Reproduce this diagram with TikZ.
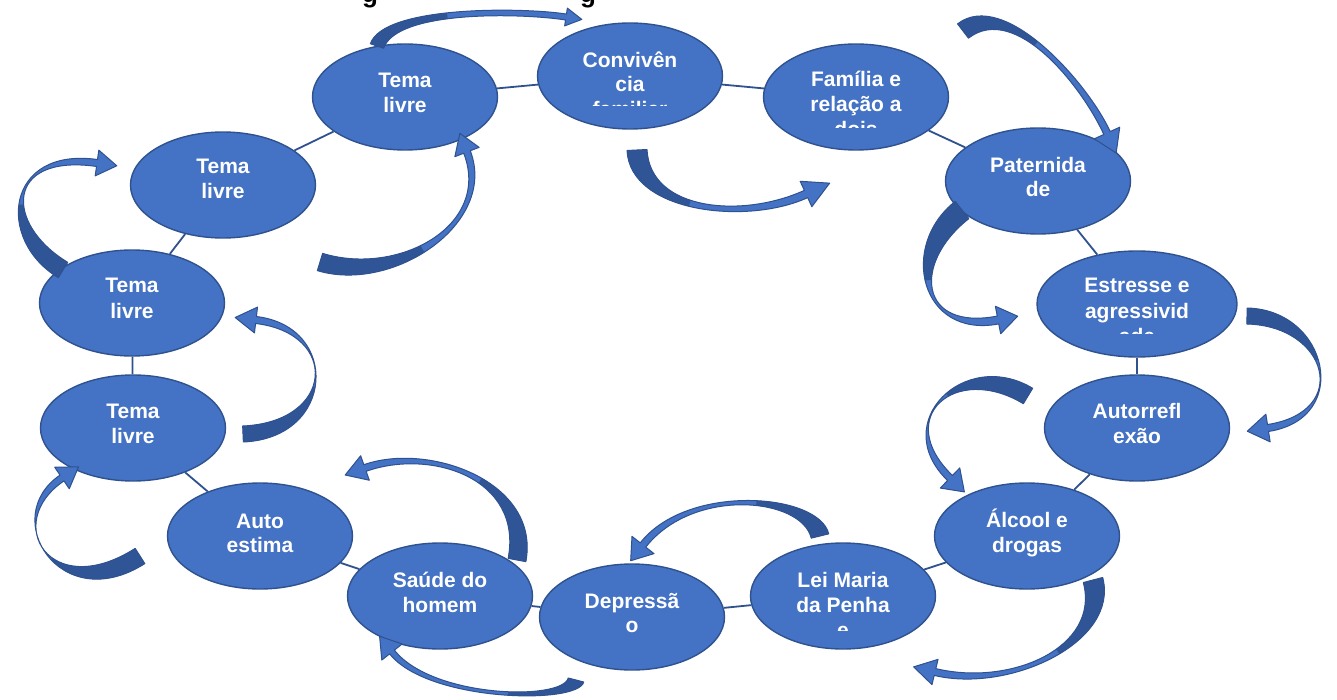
\documentclass[tikz,border=0pt]{standalone}
\usepackage{fontspec}
\setmainfont{Liberation Sans}
\usetikzlibrary{calc,shapes.geometric}
\definecolor{bfill}{HTML}{4472C4}
\definecolor{bline}{HTML}{2F528F}
\definecolor{bdark}{HTML}{2F5597}

\newcommand{\arrowoutline}{(oP0) .. controls (oC1) and (oC2) .. (oP3) -- (bO) -- (tip) -- (bI) -- (iP3) .. controls (iC2) and (iC1) .. (iP0) -- cycle}
% #1 P0, #2 C1, #3 C2, #4 P3, #5 tail half width, #6 neck half width, #7 head half width, #8 head length
\newcommand{\blockarrow}[8]{%
  \coordinate (P0) at #1;
  \coordinate (C1) at #2;
  \coordinate (C2) at #3;
  \coordinate (P3) at #4;
  \coordinate (oP0) at ($(P0)!#5pt!90:(C1)$);
  \coordinate (iP0) at ($(P0)!#5pt!-90:(C1)$);
  \coordinate (oC1) at ($(C1)!#5pt!-90:(P0)$);
  \coordinate (iC1) at ($(C1)!#5pt!90:(P0)$);
  \coordinate (oC2) at ($(C2)!#6pt!90:(P3)$);
  \coordinate (iC2) at ($(C2)!#6pt!-90:(P3)$);
  \coordinate (oP3) at ($(P3)!#6pt!-90:(C2)$);
  \coordinate (iP3) at ($(P3)!#6pt!90:(C2)$);
  \coordinate (bO) at ($(P3)!#7pt!-90:(C2)$);
  \coordinate (bI) at ($(P3)!#7pt!90:(C2)$);
  \coordinate (tip) at ($(P3)!-#8pt!(C2)$);
  \fill[bfill] \arrowoutline;
  \coordinate (q1) at ($(P0)!0.45!(C1)$);
  \coordinate (ab) at ($(C1)!0.45!(C2)$);
  \coordinate (bc) at ($(C2)!0.45!(P3)$);
  \coordinate (q2) at ($(q1)!0.45!(ab)$);
  \coordinate (rr) at ($(ab)!0.45!(bc)$);
  \coordinate (q3) at ($(q2)!0.45!(rr)$);
  \pgfmathsetlengthmacro\awide{2*#5}%
  \begin{scope}
    \clip \arrowoutline;
    \fill[bdark] ($(P0)!\awide!90:(C1)$) .. controls ($(q1)!\awide!-90:(P0)$) and ($(q2)!\awide!90:(q3)$) .. ($(q3)!\awide!-90:(q2)$) -- ($(q3)!\awide!90:(q2)$) .. controls ($(q2)!\awide!-90:(q3)$) and ($(q1)!\awide!90:(P0)$) .. ($(P0)!\awide!-90:(C1)$) -- cycle;
  \end{scope}
  \draw[arrowline] \arrowoutline;
}
\newcommand{\txtline}[3]{\node[txt] at ($(#1)+(0,#2)$) {#3};}
\newcommand{\cliptxtline}[4]{\begin{scope}\clip (0,0) rectangle (1337,#4); \node[txt] at ($(#1)+(0,#2)$) {#3};\end{scope}}

\begin{document}
\begin{tikzpicture}[x=1pt,y=-1pt,
  bub/.style={ellipse,draw=bline,line width=1.4pt,fill=bfill,minimum width=185pt,minimum height=106pt,inner sep=0pt},
  txt/.style={text=white,font=\bfseries\fontsize{21}{25}\selectfont,inner sep=0pt,anchor=base},
  link/.style={draw=bline,line width=1.8pt},
  arrowline/.style={draw=bline,line width=1pt,line join=round},
  titletxt/.style={text=black,font=\bfseries\fontsize{26}{30}\selectfont,inner sep=0pt,anchor=base}]
\useasboundingbox (0,0) rectangle (1337,700);
\fill[white] (0,0) rectangle (1337,700);

% cut-off title (only descenders visible in the reference)
\node[titletxt] (g1) at (370,3) {g};
\node[titletxt] (g2) at (588,3) {g};

% nodes
\node[bub] (t1) at (405,97) {};
\node[bub] (conv) at (630,76) {};
\node[bub] (fam) at (856,97) {};
\node[bub] (pat) at (1038,181) {};
\node[bub,minimum width=200pt] (est) at (1137,304) {};
\node[bub] (aut) at (1137,428) {};
\node[bub] (alc) at (1027,536) {};
\node[bub] (lei) at (843,596) {};
\node[bub] (dep) at (632,617) {};
\node[bub] (sau) at (440,596) {};
\node[bub] (auto) at (260,536) {};
\node[bub] (t4) at (133,428) {};
\node[bub] (t3) at (132,303) {};
\node[bub] (t2) at (223,185) {};

% cycle links
\draw[link] (t1) -- (conv);
\draw[link] (conv) -- (fam);
\draw[link] (fam) -- (pat);
\draw[link] (pat) -- (est);
\draw[link] (est) -- (aut);
\draw[link] (aut) -- (alc);
\draw[link] (alc) -- (lei);
\draw[link] (lei) -- (dep);
\draw[link] (dep) -- (sau);
\draw[link] (sau) -- (auto);
\draw[link] (auto) -- (t4);
\draw[link] (t4) -- (t3);
\draw[link] (t3) -- (t2);
\draw[link] (t2) -- (t1);

% texts
\txtline{t1}{-9}{Tema}\txtline{t1}{16}{livre}
\txtline{conv}{-8}{Convivên}\txtline{conv}{16}{cia}\cliptxtline{conv}{41}{familiar}{106}
\txtline{fam}{-10}{Família e}\txtline{fam}{15}{relação a}\cliptxtline{fam}{40}{dois}{128}
\txtline{pat}{-8}{Paternida}\txtline{pat}{16}{de}
\txtline{est}{-11}{Estresse e}\txtline{est}{14}{agressivid}\cliptxtline{est}{39}{ade}{333}
\txtline{aut}{-10}{Autorrefl}\txtline{aut}{15}{exão}
\txtline{alc}{-9}{Álcool e}\txtline{alc}{16}{drogas}
\txtline{lei}{-9}{Lei Maria}\txtline{lei}{16}{da Penha}\cliptxtline{lei}{41}{e}{630}
\txtline{dep}{-9}{Depressã}\txtline{dep}{15}{o}
\txtline{sau}{-9}{Saúde do}\txtline{sau}{16}{homem}
\txtline{auto}{-8}{Auto}\txtline{auto}{16}{estima}
\txtline{t4}{-10}{Tema}\txtline{t4}{15}{livre}
\txtline{t3}{-10}{Tema}\txtline{t3}{15}{livre}
\txtline{t2}{-11}{Tema}\txtline{t2}{14}{livre}

% curved block arrows
\blockarrow{(377,46)}{(390,8)}{(520,10)}{(566,17)}{7}{3}{9}{16}
\blockarrow{(637,150)}{(640,212)}{(745,222)}{(806,194)}{10}{4}{14}{26}
\blockarrow{(963,31)}{(1010,-5)}{(1085,85)}{(1107,133)}{9}{3.5}{14}{22}
\blockarrow{(962,210)}{(905,255)}{(920,335)}{(998,320)}{11}{4}{14}{20}
\blockarrow{(1247,316)}{(1328,318)}{(1352,415)}{(1268,428)}{8}{3.5}{14}{21}
\blockarrow{(1028,396)}{(960,355)}{(890,420)}{(950,478)}{9}{3.5}{14}{20}
\blockarrow{(1093,580)}{(1110,645)}{(1010,690)}{(935,672)}{10}{3.5}{13}{22}
\blockarrow{(820,536)}{(810,495)}{(690,485)}{(643,545)}{9}{3.5}{14}{20}
\blockarrow{(517,560)}{(532,480)}{(430,445)}{(365,468)}{9}{3.5}{13}{21}
\blockarrow{(576,680)}{(570,703)}{(430,700)}{(392,652)}{8}{3}{13}{20}
\blockarrow{(140,556)}{(55,610)}{(0,520)}{(62,478)}{9}{3.5}{13}{20}
\blockarrow{(243,434)}{(335,430)}{(340,330)}{(256,320)}{8}{3.5}{13}{21}
\blockarrow{(63,270)}{(0,232)}{(5,150)}{(97,163)}{9}{3.5}{13}{20}
\blockarrow{(320,262)}{(395,285)}{(495,225)}{(467,152)}{9}{3.5}{13}{20}
\end{tikzpicture}
\end{document}
